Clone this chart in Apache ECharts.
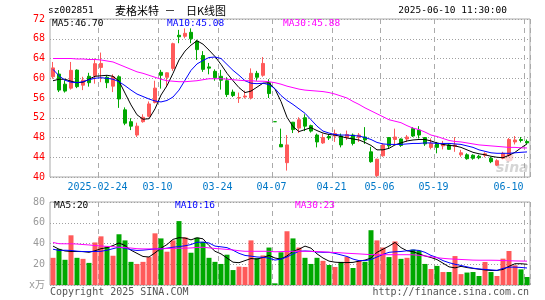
<!DOCTYPE html>
<html><head><meta charset="utf-8">
<script src="https://cdn.jsdelivr.net/npm/echarts@6.0.0/dist/echarts.min.js"></script>
<style>html,body{margin:0;padding:0;background:#fff}#c{width:545px;height:300px}</style>
</head><body><div id="c"></div>
<script>
const dates = ['2025-02-12','2025-02-13','2025-02-14','2025-02-17','2025-02-18','2025-02-19','2025-02-20','2025-02-21','2025-02-24','2025-02-25','2025-02-26','2025-02-27','2025-02-28',
'2025-03-03','2025-03-04','2025-03-05','2025-03-06','2025-03-07','2025-03-10','2025-03-11','2025-03-12','2025-03-13','2025-03-14','2025-03-17','2025-03-18','2025-03-19','2025-03-20','2025-03-21','2025-03-24','2025-03-25','2025-03-26','2025-03-27','2025-03-28','2025-03-31',
'2025-04-01','2025-04-02','2025-04-03','2025-04-07','2025-04-08','2025-04-09','2025-04-10','2025-04-11','2025-04-14','2025-04-15','2025-04-16','2025-04-17','2025-04-18','2025-04-21','2025-04-22','2025-04-23','2025-04-24','2025-04-25','2025-04-28','2025-04-29','2025-04-30',
'2025-05-06','2025-05-07','2025-05-08','2025-05-09','2025-05-12','2025-05-13','2025-05-14','2025-05-15','2025-05-16','2025-05-19','2025-05-20','2025-05-21','2025-05-22','2025-05-23','2025-05-26','2025-05-27','2025-05-28','2025-05-29','2025-05-30',
'2025-06-03','2025-06-04','2025-06-05','2025-06-06','2025-06-09','2025-06-10'];

const opens = [60.3,60.85,58.8,58.0,61.65,58.6,60.4,60.5,62.2,60.2, 58.4,60.3,53.6,51.2,48.5,51.2,52.3,55.1,61.2,60.2, 62.0,68.7,68.5,69.3,67.5,64.6,62.3,61.4,60.4,59.5, 57.2,56.0,56.2,56.0,61.0,60.6,59.1,51.2,46.6,42.9, 51.1,49.9,52.0,50.4,48.5,46.9,48.2,48.3,48.3,48.0, 48.5,48.0,48.1,45.1,40.3,44.3,48.0,47.6,47.7,47.7, 49.8,49.5,48.0,46.0,46.8,46.3,46.5,46.2,44.5,44.5, 44.4,44.2,44.4,43.8,42.4,43.8,44.4,47.1,47.6,47.2];
const closes = [62.1,57.6,57.4,61.6,58.3,59.6,59.1,62.95,63.0,59.1, 60.3,55.8,50.9,50.3,50.3,52.1,54.8,58.0,60.6,61.1, 67.0,68.4,69.1,68.0,65.8,61.8,62.05,60.1,59.6,56.7, 56.5,56.1,56.4,61.0,60.2,63.0,56.9,51.2,46.1,46.5, 49.6,51.6,50.3,49.3,47.1,48.0,47.9,48.8,46.5,48.6, 46.8,48.5,47.5,43.1,43.6,46.5,46.3,48.1,46.4,48.1, 48.3,48.5,46.7,46.8,46.0,46.7,45.6,46.5,44.9,43.7, 43.8,43.9,44.7,43.1,43.3,44.8,47.6,47.5,47.4,46.9];
const lows = [59.9,57.2,57.1,57.7,58.0,57.6,58.3,58.9,59.2,58.0, 57.2,54.0,50.5,49.5,48.1,51.0,52.1,54.9,57.9,58.2, 61.5,67.1,68.1,67.1,63.7,61.3,60.8,59.5,57.7,56.2, 56.2,55.0,55.9,55.7,59.5,60.3,56.0,51.2,46.08,41.3, 48.9,48.9,49.3,49.0,46.0,46.7,47.5,47.1,46.0,47.5, 46.4,47.1,46.7,42.9,40.0,44.1,45.8,46.5,46.1,47.1, 48.1,47.8,46.3,45.6,44.8,45.6,45.5,45.1,44.1,43.5, 43.5,43.6,44.0,42.8,42.2,43.6,44.1,46.6,47.0,46.7];
const highs = [63.3,61.65,59.6,63.3,61.8,60.3,61.1,64.0,65.2,60.6, 60.8,60.6,54.1,51.9,51.0,52.7,55.3,59.5,61.7,61.2, 67.2,69.8,70.1,70.1,67.8,65.5,63.1,61.8,61.7,60.2, 57.7,57.1,57.5,62.0,61.5,64.3,59.8,51.2,49.8,48.5, 51.15,52.1,52.7,50.6,48.8,48.8,48.6,49.6,48.8,49.4, 48.8,48.9,50.1,46.1,43.7,46.8,48.1,49.8,47.8,48.5, 50.1,50.3,48.1,47.8,47.1,47.3,46.8,48.1,45.5,44.8, 44.6,44.5,45.0,44.1,43.6,45.1,47.9,48.3,48.1,47.6];

const volumes = [26.2,34.8,24.3,47.9,26.2,25.2,21.3,41.0,46.9,37.0, 28.2,48.9,43.0,22.3,20.3,22.3,26.9,49.8,44.9,32.1, 43.0,61.6,45.9,31.1,45.6,41.6,26.2,22.3,20.3,29.2, 14.4,17.7,17.4,43.0,25.9,28.5,36.1,1.6,31.5,51.8, 44.9,36.1,26.2,20.3,26.2,23.3,19.3,17.4,22.3,27.2, 16.4,23.3,22.3,52.8,43.0,36.1,26.9,42.0,25.2,26.2, 34.1,33.1,20.3,15.4,18.4,12.5,12.5,27.9,10.5,12.0, 12.5,8.7,22.2,12.5,8.7,25.4,32.8,19.0,15.1,7.7];

const ma5 = [59.5,59.8,59.8,59.4,59.1,59.2,59.8,60.4,60.5,60.6, 60.4,59.4,57.0,54.6,52.6,51.7,51.8,53.8,56.6,58.5, 61.0,63.7,65.5,66.7,67.6,66.9,65.7,64.4,62.8,61.0, 59.5,58.1,57.1,57.4,58.2,59.0,59.1,57.8,55.3,52.1, 50.2,49.2,49.6,50.0,49.4,48.9,48.6,48.5,48.2,47.9, 47.7,47.5,47.0,46.4,45.5,45.5,45.8,46.5,46.9,47.3, 47.5,47.6,47.6,47.3,46.9,46.6,46.4,46.3,46.0,45.5, 45.0,44.7,44.5,44.2,44.0,43.9,44.4,45.0,45.9,46.70];
const ma10 = [61.8,60.5,59.6,59.2,59.1,59.3,59.7,60.0,60.1,60.0, 59.8,59.3,58.5,57.6,56.8,56.3,55.8,55.4,55.2,55.5, 56.2,57.6,59.6,61.6,62.9,63.6,64.2,64.3,64.0,62.8, 61.6,60.6,59.5,59.0,58.9,59.0,58.7,57.9,56.5,55.5, 54.7,53.8,52.9,51.6,50.3,49.3,48.9,48.6,48.5,48.5, 48.4,48.3,48.0,47.6,47.0,46.7,46.6,46.6,46.6,46.7, 46.8,46.8,46.9,46.9,46.8,46.8,46.8,46.7,46.6,46.3, 46.0,45.5,45.2,44.9,44.8,44.8,44.8,44.9,45.0,45.08];
const ma30 = [64.0,64.0,64.0,64.0,63.9,63.9,63.8,63.8,63.7,63.5, 63.3,62.8,62.3,61.8,61.3,61.0,60.6,60.2,59.8,59.5, 59.4,59.3,59.3,59.4,59.5,59.7,59.9,59.9,59.9,59.8, 59.7,59.6,59.5,59.5,59.4,59.4,59.3,59.1,58.8,58.4, 58.1,57.8,57.6,57.5,57.4,57.3,57.1,56.8,56.4,56.0, 55.3,54.7,54.0,53.4,52.8,52.2,51.6,51.3,51.0,50.4, 49.9,49.6,49.1,48.5,48.2,47.8,47.4,47.2,47.1,46.9, 46.7,46.5,46.4,46.3,46.2,46.1,46.0,46.0,45.9,45.88];

const volMa5 = [37.5,34.5,32.8,32.3,32.3,32.2,31.5,33.0,35.0,36.0, 38.0,40.5,38.0,33.5,30.5,27.5,27.0,31.0,35.5,39.0, 44.0,45.6,45.3,43.5,45.5,44.5,38.0,32.5,30.0,26.0, 22.0,21.5,23.5,25.5,25.0,26.5,28.5,26.0,25.0,28.0, 32.5,34.5,37.5,35.5,30.0,26.0,23.0,22.0,21.6,21.6, 21.8,23.0,24.0,26.0,31.5,34.5,37.5,41.0,36.0,33.0, 32.1,30.0,28.0,26.5,24.5,21.0,17.5,16.5,18.0,16.8, 16.0,15.2,14.5,14.0,14.0,15.0,18.0,20.5,20.5,20.0];
const volMa10 = [34.5,33.3,33.5,33.3,32.6,32.2,32.2,32.3,32.5,33.5, 35.0,36.5,35.5,34.0,33.3,33.6,34.2,34.8,34.8,35.5, 36.4,37.0,37.8,39.0,41.2,41.3,40.5,37.5,36.8,36.0, 33.5,30.5,28.5,27.8,27.0,26.7,25.9,24.0,25.0,27.0, 30.0,32.5,32.8,32.5,31.8,31.5,31.5,30.5,29.0,27.5, 25.0,23.5,23.5,24.5,27.0,29.5,31.5,32.0,32.3,33.0, 33.8,33.3,31.5,28.5,26.5,23.5,21.5,20.0,18.8,17.5, 16.2,15.5,15.0,14.6,14.1,16.0,17.2,17.2,16.9,16.4];
const volMa30 = [41.0,39.8,39.7,39.7,39.5,39.0,38.6,38.0,37.6,37.2, 36.9,36.4,36.0,35.6,35.0,34.8,34.8,34.8,34.8,35.2, 35.4,35.4,35.5,35.7,36.2,36.4,35.8,35.2,34.8,34.3, 33.8,33.0,32.5,32.5,32.5,32.5,32.5,32.0,32.2,32.4, 32.5,32.5,32.5,32.4,32.2,32.0,31.6,31.3,31.0,30.6, 30.3,30.0,29.6,29.3,29.2,29.2,29.2,29.2,29.2,29.2, 29.1,28.6,28.0,27.2,26.3,25.7,25.2,24.9,24.6,24.3, 24.0,23.9,23.9,23.9,23.8,23.6,23.4,23.2,23.1,23.0];

const tickDates = ['2025-02-24','2025-03-10','2025-03-24','2025-04-07','2025-04-21','2025-05-06','2025-05-19','2025-06-10'];
const tickLabels = ['2025-02-24','03-10','03-24','04-07','04-21','05-06','05-19','06-10'];
const priceMin = 40, priceMax = 72, priceStep = 4;
const volMin = 0, volMax = 80, volStep = 20;

const UP = '#ff5a5a', DOWN = '#00a800';
const MONO = '"DejaVu Sans Mono", "Liberation Mono", monospace';
const CJK = '"Noto Sans CJK SC", sans-serif';
const GRID_TOP = 19;
const isTick = (i) => tickDates.indexOf(dates[i]) >= 0;
const candleData = dates.map((d, i) => [opens[i], closes[i], lows[i], highs[i]]);
const dirUp = (i) => closes[i] > opens[i] ? true : closes[i] < opens[i] ? false : (i > 0 && closes[i] >= closes[i - 1]);
const volData = volumes.map((v, i) => ({ value: v, itemStyle: { color: dirUp(i) ? UP : DOWN } }));

const last = (a) => a[a.length - 1];
const chart = echarts.init(document.getElementById('c'), null, { renderer: 'canvas' });

const vSplit = { show: true, interval: (i) => isTick(i), lineStyle: { color: '#aaa', type: [5, 4], width: 1 } };
const hSplit = { show: true, lineStyle: { color: '#a0a0a0', type: [1, 2], width: 1 } };

function txt(x, y, text, color, align, font) {
  return { type: 'text', x: x, y: y, silent: true, z: 100,
    style: { text: text, fill: color, font: font || ('9.5px ' + MONO), textAlign: align || 'left', align: align || 'left', textVerticalAlign: 'middle', verticalAlign: 'middle' } };
}

const graphics = [
  txt(48, 11, 'sz002851', '#000'),
  txt(115, 11, '麦格米特', '#000', 'left', '11px ' + CJK),
  txt(170, 11, '－', '#000', 'center', '11px ' + CJK),
  txt(186, 11, '日K线图', '#000', 'left', '11px ' + CJK),
  txt(507, 11, '2025-06-10 11:30:00', '#000', 'right'),
  txt(52, 24, 'MA5:' + last(ma5).toFixed(2), '#000'),
  txt(167, 24, 'MA10:' + last(ma10).toFixed(2), '#0000ff'),
  txt(283, 24, 'MA30:' + last(ma30).toFixed(2), '#ff00ff'),
  txt(54, 206, 'MA5:' + Math.round(last(volMa5)), '#000'),
  txt(175, 206, 'MA10:' + Math.round(last(volMa10)), '#0000ff'),
  txt(295, 206, 'MA30:' + Math.round(last(volMa30)), '#ff00ff'),
  txt(50, 292, 'Copyright 2025 SINA.COM', '#555', 'left', '10px ' + MONO),
  txt(529, 292, 'http://finance.sina.com.cn', '#555', 'right', '10px ' + MONO),
  { type: 'circle', shape: { cx: 509, cy: 157, r: 4.5 }, silent: true, z: 1, style: { fill: 'rgba(240,110,110,0.3)' } },
  { type: 'text', x: 496, y: 161, silent: true, z: 1, style: { text: 'sina', fill: 'rgba(150,150,150,0.4)', font: 'italic bold 14px "DejaVu Sans", sans-serif' } }
];

const option = {
  animation: false,
  backgroundColor: '#fff',
  // top tick label of the price axis (the axis itself leaves its max label out)
  title: { text: String(priceMax), left: 33, top: GRID_TOP - 6, padding: 0, itemGap: 0, z: 50,
    textStyle: { color: '#ff0000', fontSize: 10, fontFamily: MONO, fontWeight: 'normal', lineHeight: 12 } },
  grid: [
    { left: 50, top: GRID_TOP, width: 480, height: 158, show: true, borderColor: '#aaa', borderWidth: 1 },
    { left: 50, top: 202, width: 480, height: 83, show: true, borderColor: '#aaa', borderWidth: 1 }
  ],
  xAxis: [
    { type: 'category', data: dates, gridIndex: 0, boundaryGap: true,
      axisLine: { show: false }, axisTick: { show: false },
      axisLabel: { interval: (i) => isTick(i), margin: 5,
        formatter: (v) => { const k = tickDates.indexOf(v); return (k === tickDates.length - 1 ? '{e|' : '{n|') + tickLabels[k] + '}'; },
        rich: { n: { padding: [0, 7, 0, 0], color: '#0078c8', fontSize: 10, fontFamily: MONO },
                e: { padding: [0, 37, 0, 0], color: '#0078c8', fontSize: 10, fontFamily: MONO } } },
      splitLine: vSplit },
    { type: 'category', data: dates, gridIndex: 1, boundaryGap: true,
      axisLine: { show: false }, axisTick: { show: false }, axisLabel: { show: false },
      splitLine: vSplit }
  ],
  yAxis: [
    { type: 'value', gridIndex: 0, min: priceMin, max: priceMax, interval: priceStep,
      axisLine: { show: false }, axisTick: { show: false },
      axisLabel: { color: '#ff0000', fontSize: 10, fontFamily: MONO, margin: 5, showMaxLabel: false, showMinLabel: true },
      splitLine: hSplit },
    { type: 'value', gridIndex: 1, min: volMin, max: volMax, interval: volStep,
      axisLine: { show: false }, axisTick: { show: false },
      axisLabel: { color: '#999', fontSize: 10, fontFamily: MONO + ', "Noto Sans CJK SC"', margin: 5, showMaxLabel: true, showMinLabel: true,
        formatter: (v) => v === 0 ? 'x万' : String(v) },
      splitLine: hSplit }
  ],
  series: [
    { type: 'candlestick', xAxisIndex: 0, yAxisIndex: 0, data: candleData, barWidth: 4,
      itemStyle: { color: UP, color0: DOWN, borderColor: UP, borderColor0: DOWN, borderColorDoji: DOWN, borderWidth: 1 } },
    { type: 'line', xAxisIndex: 0, yAxisIndex: 0, data: ma5, showSymbol: false, lineStyle: { color: '#000', width: 1 }, z: 3 },
    { type: 'line', xAxisIndex: 0, yAxisIndex: 0, data: ma10, showSymbol: false, lineStyle: { color: '#0000ff', width: 1 }, z: 3 },
    { type: 'line', xAxisIndex: 0, yAxisIndex: 0, data: ma30, showSymbol: false, lineStyle: { color: '#ff00ff', width: 1 }, z: 3 },
    { type: 'bar', xAxisIndex: 1, yAxisIndex: 1, data: volData, barWidth: 5 },
    { type: 'line', xAxisIndex: 1, yAxisIndex: 1, data: volMa5, showSymbol: false, lineStyle: { color: '#000', width: 1 }, z: 3 },
    { type: 'line', xAxisIndex: 1, yAxisIndex: 1, data: volMa10, showSymbol: false, lineStyle: { color: '#0000ff', width: 1 }, z: 3 },
    { type: 'line', xAxisIndex: 1, yAxisIndex: 1, data: volMa30, showSymbol: false, lineStyle: { color: '#ff00ff', width: 1 }, z: 3 }
  ],
  graphic: graphics
};
chart.setOption(option);
</script>
</body></html>
